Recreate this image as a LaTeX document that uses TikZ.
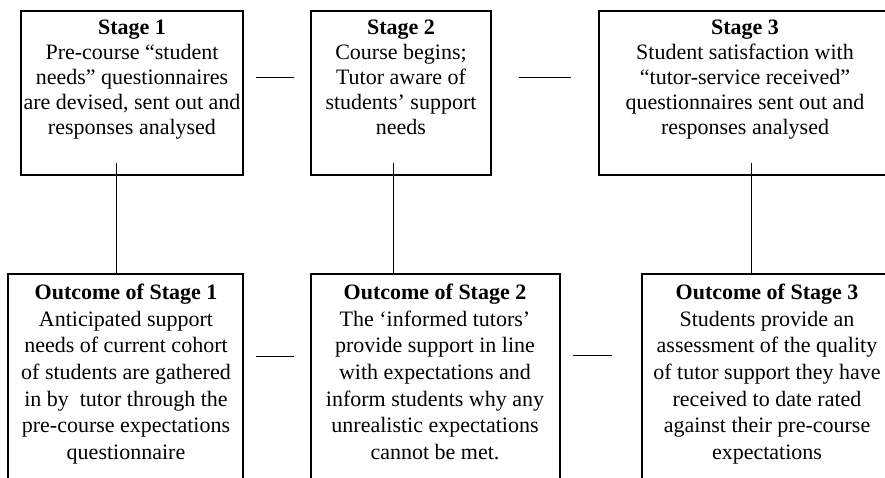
\documentclass[tikz,border=0pt]{standalone}
\usepackage{fontspec}
\setmainfont{Liberation Serif}
\usetikzlibrary{calc}
\begin{document}
\begin{tikzpicture}[x=1pt,y=-1pt,
  box/.style={draw=black,line width=1.3pt,minimum height=#1,inner sep=0pt},
  stagetext/.style={anchor=north,align=center,inner sep=0pt,font=\fontsize{22}{25}\selectfont},
  outtext/.style={anchor=north,align=center,inner sep=0pt,font=\fontsize{22}{26.6}\selectfont},
  link/.style={draw=black,line width=1.2pt}]
\useasboundingbox (0,0) rectangle (885,477);
\fill[white] (0,0) rectangle (885,477);
\clip (0,0) rectangle (885,477);
% top boxes
\node[box=164pt,minimum width=222pt] (s1) at (132,93) {};
\node[box=164pt,minimum width=180pt] (s2) at (401,93) {};
\node[box=164pt,minimum width=292pt] (s3) at (745,93) {};
% bottom boxes
\node[box=226pt,minimum width=235pt] (o1) at (125.5,387) {};
\node[box=226pt,minimum width=249pt] (o2) at (435.5,387) {};
\node[box=226pt,minimum width=250pt] (o3) at (767,387) {};
% texts
\node[stagetext] (t1) at (132,20) {\textbf{Stage 1}\\Pre-course “student\\needs” questionnaires\\are devised, sent out and\\responses analysed};
\node[stagetext] (t2) at (401,20) {\textbf{Stage 2}\\Course begins;\\Tutor aware of\\students’ support\\needs};
\node[stagetext] (t3) at (745,20) {\textbf{Stage 3}\\Student satisfaction with\\“tutor-service received”\\questionnaires sent out and\\responses analysed};
\node[outtext] (u1) at (126,284) {\textbf{Outcome of Stage 1}\\Anticipated support\\needs of current cohort\\of students are gathered\\in by\ \ tutor through the\\pre-course expectations\\questionnaire};
\node[outtext] (u2) at (435,284) {\textbf{Outcome of Stage 2}\\The ‘informed tutors’\\provide support in line\\with expectations and\\inform students why any\\unrealistic expectations\\cannot be met.};
\node[outtext] (u3) at (767,284) {\textbf{Outcome of Stage 3}\\Students provide an\\assessment of the quality\\of tutor support they have\\received to date rated\\against their pre-course\\expectations};
% horizontal connectors
\coordinate (h1a) at ($(s1.north east)+(12,67)$);
\coordinate (h1b) at ($(s2.north west)+(-16,67)$);
\coordinate (h2a) at ($(s2.north east)+(27,67)$);
\coordinate (h2b) at ($(s3.north west)+(-27,67)$);
\coordinate (h3a) at ($(o1.north east)+(12,83)$);
\coordinate (h3b) at ($(o2.north west)+(-16,83)$);
\coordinate (h4a) at ($(o2.north east)+(12,82)$);
\coordinate (h4b) at ($(o3.north west)+(-29,82)$);
\draw[link] (h1a) -- (h1b);
\draw[link] (h2a) -- (h2b);
\draw[link] (h3a) -- (h3b);
\draw[link] (h4a) -- (h4b);
% vertical connectors
\coordinate (v1) at ($(s1.south west)+(96,-13)$);
\coordinate (v2) at ($(s2.south west)+(83,-13)$);
\coordinate (v3) at ($(s3.south west)+(153,-13)$);
\draw[link] (v1) -- (v1 |- o1.north);
\draw[link] (v2) -- (v2 |- o2.north);
\draw[link] (v3) -- (v3 |- o3.north);
\end{tikzpicture}
\end{document}
